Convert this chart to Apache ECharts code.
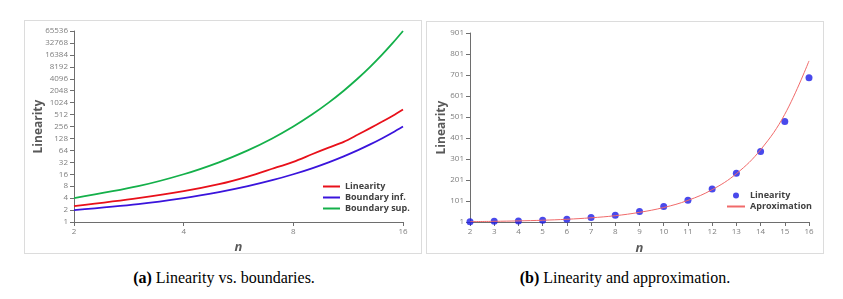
<!DOCTYPE html>
<html><head><meta charset="utf-8">
<script src="https://cdn.jsdelivr.net/npm/echarts@6/dist/echarts.min.js"></script>
<style>
html,body{margin:0;padding:0;background:#fff;width:843px;height:299px;overflow:hidden;}
.frame{position:absolute;box-sizing:border-box;border:1px solid #dcdcdc;background:#fff;}
.chart{position:absolute;left:0;top:0;right:0;bottom:0;}
.cap{position:absolute;font-family:"Liberation Serif","DejaVu Serif",serif;font-size:16px;color:#000;white-space:nowrap;transform:translateX(-50%);}
.cap b{font-weight:bold;}
</style></head>
<body>
<div class="frame" id="fa" style="left:24px;top:20px;width:398px;height:234px;"><div class="chart" id="ca"></div></div>
<div class="frame" id="fb" style="left:426px;top:21px;width:398px;height:233px;"><div class="chart" id="cb"></div></div>
<div class="cap" style="left:224px;top:269px;"><b>(a)</b> Linearity vs. boundaries.</div>
<div class="cap" style="left:625px;top:269px;"><b>(b)</b> Linearity and approximation.</div>
<script>
// n values
const nValues = [2,3,4,5,6,7,8,9,10,11,12,13,14,15,16];
// measured linearity
const linearity = [2.5,4,6,9,14,22,33,51,75,105,158,233,337,480,688];
// lower boundary
const boundaryInf = [2,2.83,4,5.66,8,11.3,16,22.6,32,45.3,64,90.5,128,181,256];
// upper boundary
const boundarySup = [4,8,16,32,64,128,256,512,1024,2048,4096,8192,16384,32768,65536];
// approximation curve
const approximation = [2.8,4.2,6.3,9.4,14,21,31,47,70,104,155,231,345,514,768];
// tick labels
const leftYTicks = [1,2,4,8,16,32,64,128,256,512,1024,2048,4096,8192,16384,32768,65536];
const leftXTicks = [2,4,8,16];
const rightYTicks = [1,101,201,301,401,501,601,701,801,901];

const pairs = (xs, ys) => xs.map((x,i)=>[x, ys[i]]);
const labelFont = {fontFamily:'Open Sans, Liberation Sans, sans-serif', fontSize:8, color:'#7f7f7f'};
const axisLineCol = '#6e6e6e';
const nameStyleY = {fontFamily:'Open Sans, Liberation Sans, sans-serif', fontSize:12, fontWeight:'bold', color:'#595959'};
const nameStyleX = {fontFamily:'Open Sans, Liberation Sans, sans-serif', fontSize:13, fontWeight:'bold', fontStyle:'italic', color:'#595959'};
const legendText = {fontFamily:'Open Sans, Liberation Sans, sans-serif', fontSize:9, fontWeight:'bold', color:'#404040'};
const hiddenSym = {color:'rgba(0,0,0,0)', borderColor:'rgba(0,0,0,0)', borderWidth:0};

const ca = echarts.init(document.getElementById('ca'), null, {renderer:'canvas'});
ca.setOption({
  animation:false,
  grid:{left:49, top:10, width:329, height:191, containLabel:false, outerBoundsMode:'none'},
  xAxis:{type:'log', logBase:2, min:leftXTicks[0], max:leftXTicks[leftXTicks.length-1], interval:1,
    name:'n', nameLocation:'middle', nameGap:19, nameMoveOverlap:false, nameTextStyle:nameStyleX,
    axisLine:{lineStyle:{color:axisLineCol, width:1}}, axisTick:{length:4, lineStyle:{color:axisLineCol}},
    axisLabel:Object.assign({margin:6, formatter:v=>String(v)}, labelFont), splitLine:{show:false}, minorTick:{show:false}},
  yAxis:{type:'log', logBase:2, min:leftYTicks[0], max:leftYTicks[leftYTicks.length-1], interval:1,
    name:'Linearity', nameLocation:'middle', nameGap:29, nameMoveOverlap:false, nameRotate:90, nameTextStyle:nameStyleY,
    axisLine:{show:true, lineStyle:{color:axisLineCol, width:1}}, axisTick:{show:true, length:4, lineStyle:{color:axisLineCol}},
    axisLabel:Object.assign({margin:6, formatter:v=>String(Math.round(v))}, labelFont), splitLine:{show:false}},
  legend:{orient:'vertical', left:297, top:161, padding:0, itemWidth:17, itemHeight:8, itemGap:2, textStyle:legendText,
    itemStyle:hiddenSym,
    data:['Linearity','Boundary inf.','Boundary sup.']},
  series:[
    {name:'Linearity', type:'line', data:pairs(nValues, linearity), symbol:'none', smooth:0.3, lineStyle:{color:'#e8101a', width:1.8}, itemStyle:{color:'#e8101a'}},
    {name:'Boundary inf.', type:'line', data:pairs(nValues, boundaryInf), symbol:'none', smooth:0.3, lineStyle:{color:'#3a14dc', width:1.8}, itemStyle:{color:'#3a14dc'}},
    {name:'Boundary sup.', type:'line', data:pairs(nValues, boundarySup), symbol:'none', smooth:0.3, lineStyle:{color:'#14b04a', width:1.8}, itemStyle:{color:'#14b04a'}}
  ]
});

const cb = echarts.init(document.getElementById('cb'), null, {renderer:'canvas'});
cb.setOption({
  animation:false,
  grid:{left:43, top:11, width:339, height:189, containLabel:false, outerBoundsMode:'none'},
  xAxis:{type:'value', min:nValues[0], max:nValues[nValues.length-1], interval:1,
    name:'n', nameLocation:'middle', nameGap:20, nameMoveOverlap:false, nameTextStyle:nameStyleX,
    axisLine:{lineStyle:{color:axisLineCol, width:1}}, axisTick:{length:4, lineStyle:{color:axisLineCol}},
    axisLabel:Object.assign({margin:6}, labelFont), splitLine:{show:false}},
  yAxis:{type:'value', min:rightYTicks[0], max:rightYTicks[rightYTicks.length-1], interval:100,
    name:'Linearity', nameLocation:'middle', nameGap:22, nameMoveOverlap:false, nameRotate:90, nameTextStyle:nameStyleY,
    axisLine:{show:true, lineStyle:{color:axisLineCol, width:1}}, axisTick:{show:true, length:4, lineStyle:{color:axisLineCol}},
    axisLabel:Object.assign({margin:6}, labelFont), splitLine:{show:false}},
  legend:{orient:'vertical', left:299, top:169, padding:0, itemWidth:18, itemHeight:6, itemGap:2, textStyle:legendText,
    data:[{name:'Linearity', icon:'circle'},{name:'Aproximation', itemStyle:hiddenSym}]},
  series:[
    {name:'Aproximation', type:'line', data:pairs(nValues, approximation), symbol:'none', smooth:0.4, lineStyle:{color:'#f06a6a', width:1}, itemStyle:{color:'#f06a6a'}, z:3},
    {name:'Linearity', type:'scatter', data:pairs(nValues, linearity), symbol:'circle', symbolSize:7, itemStyle:{color:'#1c1ce6'}, z:2}
  ]
});
</script>
</body></html>
